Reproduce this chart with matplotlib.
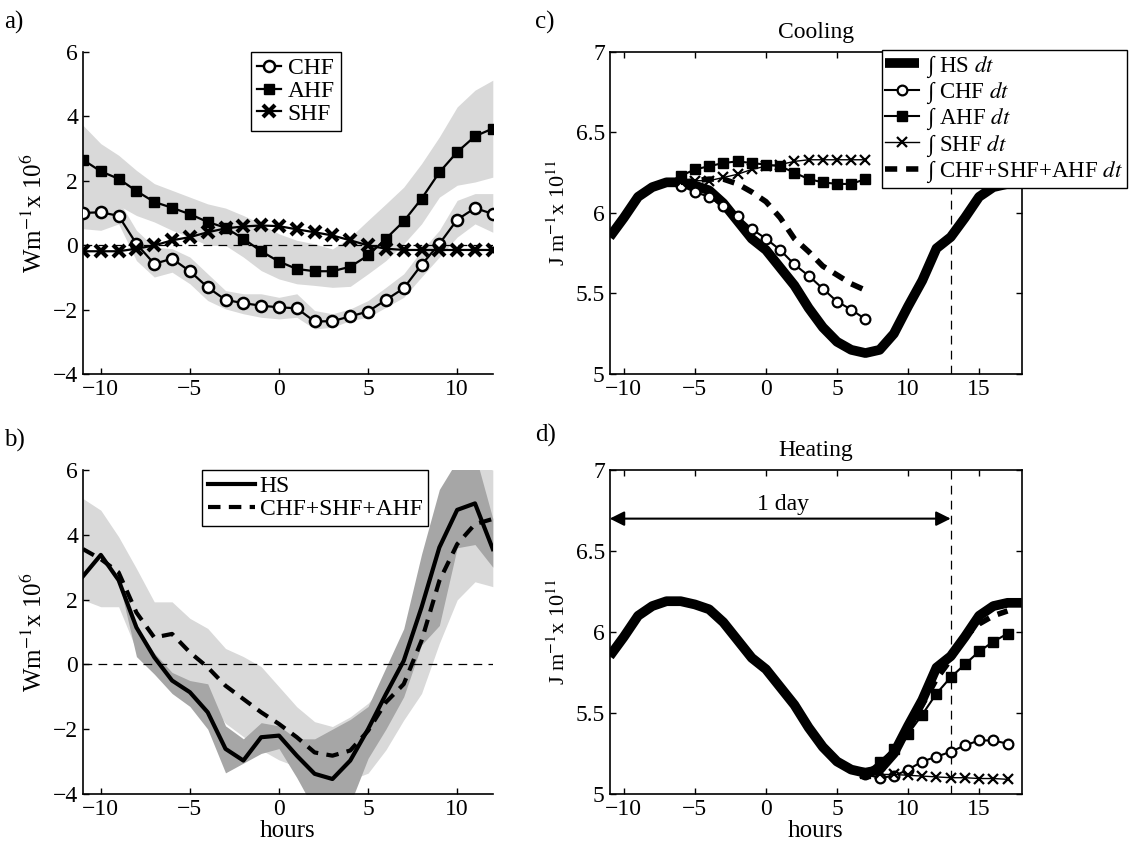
import numpy as np
import matplotlib
matplotlib.use("Agg")
import matplotlib.pyplot as plt

plt.rcParams['font.family'] = ['Liberation Serif', 'DejaVu Serif']
plt.rcParams['mathtext.fontset'] = 'stix'
plt.rcParams['axes.linewidth'] = 1.2

# ---- panel a / b : hourly fluxes ----
hours_ab = [-11, -10, -9, -8, -7, -6, -5, -4, -3, -2, -1, 0,
            1, 2, 3, 4, 5, 6, 7, 8, 9, 10, 11, 12]

chf = [1.0, 1.02, 0.91, 0.04, -0.58, -0.42, -0.81, -1.31, -1.70, -1.80, -1.88, -1.93,
       -1.96, -2.37, -2.36, -2.21, -2.06, -1.70, -1.34, -0.61, 0.04, 0.79, 1.15, 0.97]
chf_lo = [0.51, 0.46, 0.66, -0.48, -0.99, -0.84, -1.2, -1.72, -1.98, -2.13, -2.24, -2.29,
          -2.24, -2.6, -2.55, -2.34, -2.24, -1.93, -1.62, -0.99, -0.37, 0.25, 0.66, 0.4]
chf_hi = [1.6, 1.49, 1.39, 0.46, -0.06, -0.11, -0.37, -0.89, -1.41, -1.51, -1.51, -1.62,
          -1.51, -2.03, -2.13, -1.98, -1.72, -1.31, -0.89, -0.17, 0.46, 1.39, 1.6, 1.6]

ahf = [2.65, 2.29, 2.06, 1.68, 1.34, 1.16, 0.96, 0.72, 0.54, 0.20, -0.19, -0.51,
       -0.74, -0.81, -0.81, -0.67, -0.32, 0.20, 0.74, 1.44, 2.26, 2.89, 3.38, 3.62]
ahf_lo = [1.49, 1.34, 1.23, 0.92, 0.72, 0.46, 0.25, -0.01, -0.01, -0.37, -0.79, -1.05,
          -1.2, -1.25, -1.31, -1.28, -0.89, -0.48, 0.04, 0.66, 1.49, 1.86, 1.96, 2.11]
ahf_hi = [3.72, 3.15, 2.79, 2.32, 1.91, 1.70, 1.49, 1.28, 1.15, 0.92, 0.66, 0.35,
          0.15, 0.04, -0.12, 0.25, 0.77, 1.28, 1.80, 2.53, 3.36, 4.29, 4.81, 5.12]

shf = [-0.19, -0.19, -0.19, -0.11, -0.01, 0.15, 0.25, 0.40, 0.52, 0.58, 0.61, 0.59,
       0.49, 0.40, 0.30, 0.15, -0.01, -0.11, -0.15, -0.15, -0.15, -0.15, -0.15, -0.15]

hs = [2.72, 3.38, 2.6, 1.14, 0.22, -0.5, -0.86, -1.48, -2.61, -2.97, -2.25, -2.2,
      -2.82, -3.38, -3.54, -2.97, -2.0, -0.92, 0.11, 1.76, 3.61, 4.77, 4.97, 3.56]
hs_lo = [2.72, 3.38, 2.6, 0.24, -0.3, -0.9, -1.3, -2.0, -3.35, -3.05, -2.75, -2.6,
         -3.5, -4.5, -4.5, -4.3, -2.9, -2.0, -1.0, 0.6, 1.2, 3.6, 3.7, 3.0]
hs_hi = [2.72, 3.38, 2.6, 1.17, 0.35, -0.25, -0.5, -0.6, -1.9, -2.3, -1.8, -1.9,
         -2.3, -2.3, -2.0, -1.7, -1.3, -0.1, 1.1, 3.4, 5.4, 6.3, 6.5, 4.5]

flux_sum = [3.56, 3.25, 2.84, 1.6, 0.83, 0.94, 0.37, -0.09, -0.66, -1.07, -1.48, -1.84,
            -2.25, -2.72, -2.82, -2.66, -2.05, -1.17, -0.61, 0.73, 2.58, 3.71, 4.33, 4.49]
sum_lo = [1.99, 1.78, 1.78, 0.44, 0.03, -0.33, -0.59, -1.1, -1.82, -2.23, -2.64, -2.95,
          -3.16, -3.16, -3.57, -3.57, -3.36, -2.64, -1.72, -0.9, 0.65, 1.99, 2.55, 2.4]
sum_hi = [5.12, 4.76, 3.94, 2.96, 1.93, 1.93, 1.42, 1.11, 0.49, 0.24, -0.07, -0.69,
          -1.31, -1.77, -1.92, -1.62, -1.2, -0.59, 0.24, 1.47, 3.53, 5.69, 6.2, 6.0]

# ---- panel c / d : integrated heat content ----
hours_cd = [-11, -10, -9, -8, -7, -6, -5, -4, -3, -2, -1, 0, 1, 2, 3, 4,
            5, 6, 7, 8, 9, 10, 11, 12, 13, 14, 15, 16, 17, 18]
int_hs = [5.85, 5.97, 6.10, 6.16, 6.19, 6.19, 6.17, 6.14, 6.06, 5.95, 5.84, 5.77, 5.66,
          5.55, 5.41, 5.29, 5.20, 5.15, 5.13, 5.15, 5.25, 5.42, 5.58, 5.78, 5.85, 5.97,
          6.10, 6.16, 6.18, 6.18]

hours_cool = [-6, -5, -4, -3, -2, -1, 0, 1, 2, 3, 4, 5, 6, 7]
cool_chf = [6.17, 6.13, 6.10, 6.04, 5.98, 5.90, 5.84, 5.77, 5.68, 5.61, 5.53, 5.45, 5.40, 5.34]
cool_ahf = [6.23, 6.27, 6.29, 6.31, 6.32, 6.31, 6.30, 6.29, 6.25, 6.21, 6.19, 6.18, 6.18, 6.21]
cool_shf = [6.19, 6.20, 6.20, 6.22, 6.24, 6.27, 6.29, 6.30, 6.32, 6.33, 6.33, 6.33, 6.33, 6.33]
cool_sum = [6.19, 6.20, 6.21, 6.21, 6.18, 6.13, 6.07, 5.97, 5.84, 5.76, 5.67, 5.615, 5.56, 5.52]

hours_heat = [7, 8, 9, 10, 11, 12, 13, 14, 15, 16, 17]
heat_ahf = [5.13, 5.20, 5.28, 5.37, 5.49, 5.62, 5.72, 5.80, 5.88, 5.94, 5.99]
heat_chf = [5.12, 5.10, 5.11, 5.15, 5.20, 5.23, 5.26, 5.30, 5.33, 5.33, 5.31]
heat_shf = [5.13, 5.12, 5.12, 5.115, 5.11, 5.105, 5.10, 5.10, 5.095, 5.095, 5.09]
heat_sum = [5.13, 5.17, 5.27, 5.40, 5.55, 5.71, 5.83, 5.97, 6.05, 6.10, 6.13]

day_end = 13

light = '#d9d9d9'
dark = '#a6a6a6'
zero_dash = (0, (7, 5))
tick_fs = 17
leg_kw = dict(fancybox=False, edgecolor='k', framealpha=1, borderaxespad=0)

fig = plt.figure(figsize=(11.29, 8.5), dpi=100)
ax_a = fig.add_axes([0.0735, 0.560, 0.363, 0.379])
ax_b = fig.add_axes([0.0735, 0.066, 0.363, 0.381])
ax_c = fig.add_axes([0.540, 0.560, 0.365, 0.379])
ax_d = fig.add_axes([0.540, 0.066, 0.365, 0.381])

# a) fluxes
ax = ax_a
ax.fill_between(hours_ab, ahf_lo, ahf_hi, color=light, lw=0, zorder=1)
ax.fill_between(hours_ab, chf_lo, chf_hi, color=light, lw=0, zorder=1)
ax.axhline(0, color='k', lw=0.9, ls=zero_dash, zorder=2)
ax.plot(hours_ab, chf, '-o', color='k', lw=1.6, ms=8, mfc='white', mew=1.8, label='CHF', zorder=3)
ax.plot(hours_ab, ahf, '-s', color='k', lw=1.6, ms=7, label='AHF', zorder=3)
ax.plot(hours_ab, shf, '-x', color='k', lw=1.6, ms=9, mew=3, label='SHF', zorder=3)
ax.legend(loc='upper left', bbox_to_anchor=(0.41, 1.0), fontsize=17, handlelength=1.0,
          handletextpad=0.3, borderpad=0.25, labelspacing=0.05, **leg_kw)
ax.set_ylabel(r'Wm$^{-1}$x 10$^{6}$', fontsize=18)

# b) HS vs sum
ax = ax_b
ax.fill_between(hours_ab, sum_lo, sum_hi, color=light, lw=0, zorder=1)
ax.fill_between(hours_ab, hs_lo, hs_hi, color=dark, lw=0, zorder=1)
ax.axhline(0, color='k', lw=0.9, ls=zero_dash, zorder=2)
ax.plot(hours_ab, hs, '-', color='k', lw=3, label='HS', zorder=3)
ax.plot(hours_ab, flux_sum, color='k', lw=3, ls=(0, (3, 2)), label='CHF+SHF+AHF', zorder=3)
ax.legend(loc='upper left', bbox_to_anchor=(0.29, 1.0), fontsize=17, handlelength=2.0,
          handletextpad=0.2, borderpad=0.25, labelspacing=0.05, **leg_kw)
ax.set_ylabel(r'Wm$^{-1}$x 10$^{6}$', fontsize=18)
ax.set_xlabel('hours', fontsize=18, labelpad=0)

for ax in (ax_a, ax_b):
    ax.set_xlim(-11, 12)
    ax.set_ylim(-4, 6)
    ax.set_xticks([-10, -5, 0, 5, 10])
    ax.set_yticks([-4, -2, 0, 2, 4, 6])
    ax.spines['top'].set_visible(False)
    ax.spines['right'].set_visible(False)
    ax.tick_params(direction='in', length=4, labelsize=tick_fs, width=1)

# c) cooling
ax = ax_c
ax.axvline(day_end, color='k', lw=0.9, ls=zero_dash, zorder=1)
ax.plot(hours_cd, int_hs, '-', color='k', lw=7, solid_capstyle='butt',
        label='\u222b HS $dt$', zorder=2)
ax.plot(hours_cool, cool_chf, '-o', color='k', lw=1.5, ms=7, mfc='white', mew=1.6,
        label='\u222b CHF $dt$', zorder=3)
ax.plot(hours_cool, cool_ahf, '-s', color='k', lw=1.5, ms=6.5,
        label='\u222b AHF $dt$', zorder=3)
ax.plot(hours_cool, cool_shf, '-x', color='k', lw=1, ms=7, mew=1.6,
        label='\u222b SHF $dt$', zorder=3)
ax.plot(hours_cool, cool_sum, color='k', lw=4, ls=(0, (2.2, 1.6)),
        label='\u222b CHF+SHF+AHF $dt$', zorder=3)
ax.legend(loc='upper right', bbox_to_anchor=(1.255, 1.006), fontsize=16.5, handlelength=1.5,
          handletextpad=0.3, borderpad=0.15, labelspacing=0.0, **leg_kw)
ax.set_title('Cooling', fontsize=17, pad=10)

# d) heating
ax = ax_d
ax.axvline(day_end, color='k', lw=0.9, ls=zero_dash, zorder=1)
ax.plot(hours_cd, int_hs, '-', color='k', lw=7, solid_capstyle='butt', zorder=2)
ax.plot(hours_heat, heat_chf, '-o', color='k', lw=1.5, ms=7, mfc='white', mew=1.6, zorder=3)
ax.plot(hours_heat, heat_ahf, '-s', color='k', lw=1.5, ms=6.5, zorder=3)
ax.plot(hours_heat, heat_shf, '-x', color='k', lw=1, ms=7, mew=1.6, zorder=3)
ax.plot(hours_heat, heat_sum, color='k', lw=4, ls=(0, (2.2, 1.6)), zorder=3)
ax.annotate('', xy=(-11, 6.7), xytext=(day_end, 6.7),
            arrowprops=dict(arrowstyle='<|-|>', color='k', lw=1.5,
                            mutation_scale=22, shrinkA=0, shrinkB=0))
ax.text(1.2, 6.72, '1 day', fontsize=17, ha='center', va='bottom')
ax.set_title('Heating', fontsize=17, pad=10)
ax.set_xlabel('hours', fontsize=18, labelpad=0)

for ax in (ax_c, ax_d):
    ax.set_xlim(-11, 18)
    ax.set_ylim(5, 7)
    ax.set_xticks([-10, -5, 0, 5, 10, 15])
    ax.set_yticks([5, 5.5, 6, 6.5, 7])
    ax.set_yticklabels(['5', '5.5', '6', '6.5', '7'])
    ax.tick_params(direction='in', length=4, labelsize=tick_fs, width=1,
                   top=True, right=True)
    ax.set_ylabel(r'J m$^{-1}$x 10$^{11}$', fontsize=16)

fig.text(0.004, 0.974, 'a)', fontsize=18, va='center')
fig.text(0.004, 0.482, 'b)', fontsize=18, va='center')
fig.text(0.474, 0.974, 'c)', fontsize=18, va='center')
fig.text(0.474, 0.488, 'd)', fontsize=18, va='center')

fig.savefig('out.png', dpi=100)
